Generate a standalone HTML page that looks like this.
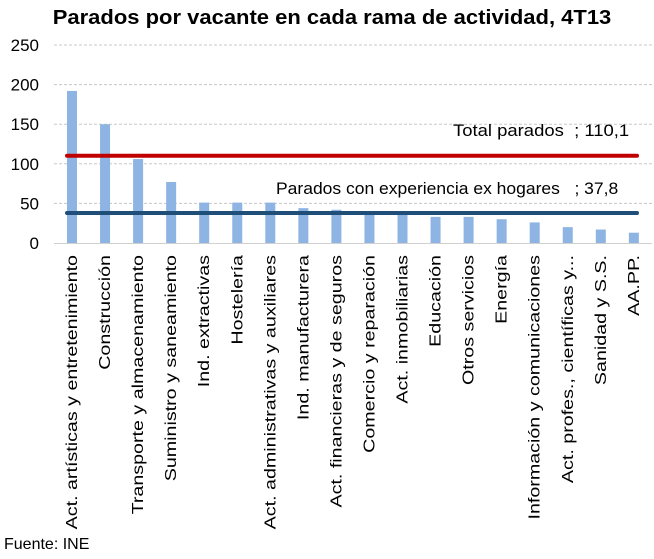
<!DOCTYPE html>
<html><head><meta charset="utf-8"><style>
body{margin:0;background:#fff;width:654px;height:554px;overflow:hidden;font-family:"Liberation Sans",sans-serif}
</style></head><body>
<svg id="c" width="654" height="554" xmlns="http://www.w3.org/2000/svg">
<text transform="translate(332,24) scale(1.1,1)" text-anchor="middle" font-size="20" font-weight="bold" fill="#000">Parados por vacante en cada rama de actividad, 4T13</text>
<g id="grid"></g><g id="bars"></g><g id="lines"></g><g id="labels"></g>
<text x="4" y="549" font-size="16" fill="#000">Fuente: INE</text>
</svg>
<script>
const categories=["Act. artísticas y entretenimiento","Construcción","Transporte y almacenamiento","Suministro y saneamiento","Ind. extractivas","Hostelería","Act. administrativas y auxiliares","Ind. manufacturera","Act. financieras y de seguros","Comercio y reparación","Act. inmobiliarias","Educación","Otros servicios","Energía","Información y comunicaciones","Act. profes., científicas y...","Sanidad y S.S.","AA.PP."];
const values=[192,150,106,77,51,51,51,44,42,39,38,33,33,30,26,20,17,13];
const ticks=[0,50,100,150,200,250];
const totalParados=110.1;
const paradosExp=37.8;
const NS="http://www.w3.org/2000/svg";
const y=v=>243-v*(198/250);
const x=i=>72+i*33.05;
function mk(t,a,p){const e=document.createElementNS(NS,t);for(const k in a)e.setAttribute(k,a[k]);document.getElementById(p).appendChild(e);return e;}
ticks.forEach(t=>{
 if(t>0){const g=mk("line",{x1:54,x2:652,y1:y(t),y2:y(t),stroke:"#c8c8c8","stroke-dasharray":"3,2","stroke-width":1},"grid");
 
 }
 const l=mk("text",{x:39,y:y(t)+6,"text-anchor":"end","font-size":17,fill:"#000"},"grid");
 l.textContent=t;
 
 
});
const ax=mk("line",{x1:54,x2:652,y1:243.5,y2:243.5,stroke:"#d0d0d0","stroke-width":1},"grid");


values.forEach((v,i)=>{
 const b=mk("rect",{x:x(i)-5,y:y(v),width:10,height:243-y(v),fill:"#8db4e2"},"bars");
 
 
 const t=mk("text",{transform:`translate(${x(i)+5},255) rotate(-90) scale(1.23,1)`,"text-anchor":"end","font-size":16,fill:"#000"},"labels");
 t.textContent=categories[i];
 
 
});
const r=mk("line",{x1:67,x2:637,y1:y(totalParados),y2:y(totalParados),stroke:"#c00000","stroke-width":4,"stroke-linecap":"round"},"lines");


const rl=mk("text",{transform:"translate(453,136) scale(1.12,1)","font-size":16.5,fill:"#000"},"lines");
rl.setAttribute("style","white-space:pre");
rl.textContent="Total parados  ; 110,1";


const bl=mk("line",{x1:67,x2:637,y1:y(paradosExp),y2:y(paradosExp),stroke:"#1f4e79","stroke-width":4,"stroke-linecap":"round"},"lines");


const blt=mk("text",{transform:"translate(276,194) scale(1.06,1)","font-size":16.5,fill:"#000"},"lines");
blt.setAttribute("style","white-space:pre");
blt.textContent="Parados con experiencia ex hogares   ; 37,8";


</script>
</body></html>
